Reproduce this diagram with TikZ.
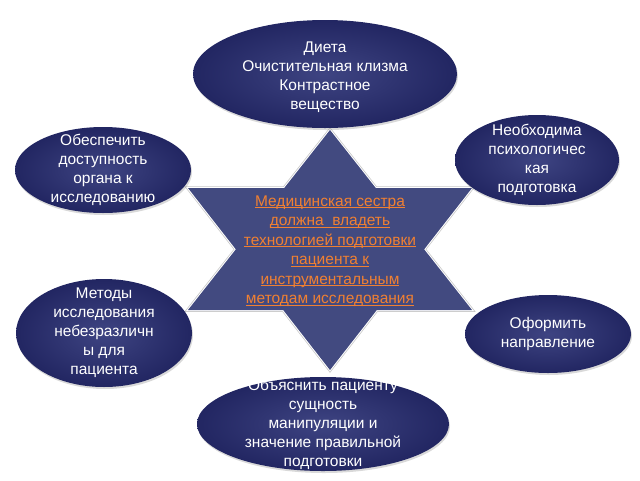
\documentclass[tikz,border=0pt]{standalone}
\usepackage{fontspec}
\setmainfont{Liberation Sans}
\usetikzlibrary{shapes.geometric,shadows}
\definecolor{ink}{RGB}{34,38,98}
\definecolor{inklight}{RGB}{62,68,130}
\definecolor{starblue}{RGB}{66,74,128}
\definecolor{hubtext}{RGB}{240,128,50}
\newsavebox{\ulbox}
\newcommand{\hubline}[1]{\sbox{\ulbox}{#1}\rlap{\rule[-2.2pt]{\wd\ulbox}{0.9pt}}\usebox{\ulbox}}
\tikzset{
  oval/.style ={ellipse, inner sep=0pt, inner color=inklight, outer color=ink,
                drop shadow={shadow xshift=1pt, shadow yshift=-2pt, opacity=0.3}},
  tm/.style   ={text=white, align=center, font=\fontsize{15.5}{19}\selectfont},
  hub/.style  ={text=hubtext, align=center, font=\fontsize{15.5}{19.5}\selectfont},
  rim/.style  ={draw=gray!45, line width=3.5pt, line join=miter}
}

\begin{document}
\begin{tikzpicture}[x=1pt, y=-1pt]
\useasboundingbox (0,0) rectangle (640,480);
% star
\coordinate (up) at (330,130);
\coordinate (ul) at (188,310);
\coordinate (ur) at (472,310);
\coordinate (dl) at (188,188);
\coordinate (dr) at (472,188);
\coordinate (dn) at (330,370);
\draw[rim] (up) -- (ul) -- (ur) -- cycle (dl) -- (dn) -- (dr) -- cycle;
\draw[white, line width=2pt] (up) -- (ul) -- (ur) -- cycle (dl) -- (dn) -- (dr) -- cycle;
\fill[starblue] (up) -- (ul) -- (ur) -- cycle (dl) -- (dn) -- (dr) -- cycle;
\node[hub] (core) at (330,251) {\hubline{Медицинская сестра}\\
  \hubline{должна\ \ владеть}\\ \hubline{технологией подготовки}\\
  \hubline{пациента к}\\ \hubline{инструментальным}\\
  \hubline{методам исследования}};
% ovals
\node[oval, minimum width=264pt, minimum height=108pt] (diet) at (325,74) {};
\node[oval, minimum width=176pt, minimum height=86pt] (organ) at (103,170) {};
\node[oval, minimum width=164pt, minimum height=90pt] (psy) at (537,160) {};
\node[oval, minimum width=176pt, minimum height=108pt] (meth) at (104,333) {};
\node[oval, minimum width=166pt, minimum height=78pt] (form) at (548,334) {};
\node[oval, minimum width=252pt, minimum height=94pt] (expl) at (323,424) {};
% texts
\node[tm] at ([yshift=-3pt]diet) {Диета\\ Очистительная клизма\\ Контрастное\\ вещество};
\node[tm] at (organ) {Обеспечить\\ доступность\\ органа к\\ исследованию};
\node[tm] at (psy) {Необходима\\ психологичес\\ кая\\ подготовка};
\node[tm] at (meth) {Методы\\ исследования\\ небезразличн\\ ы для\\ пациента};
\node[tm] at (form) {Оформить\\ направление};
\node[tm] at (expl) {Объяснить пациенту\\ сущность\\ манипуляции и\\ значение правильной\\ подготовки};
\end{tikzpicture}
\end{document}
